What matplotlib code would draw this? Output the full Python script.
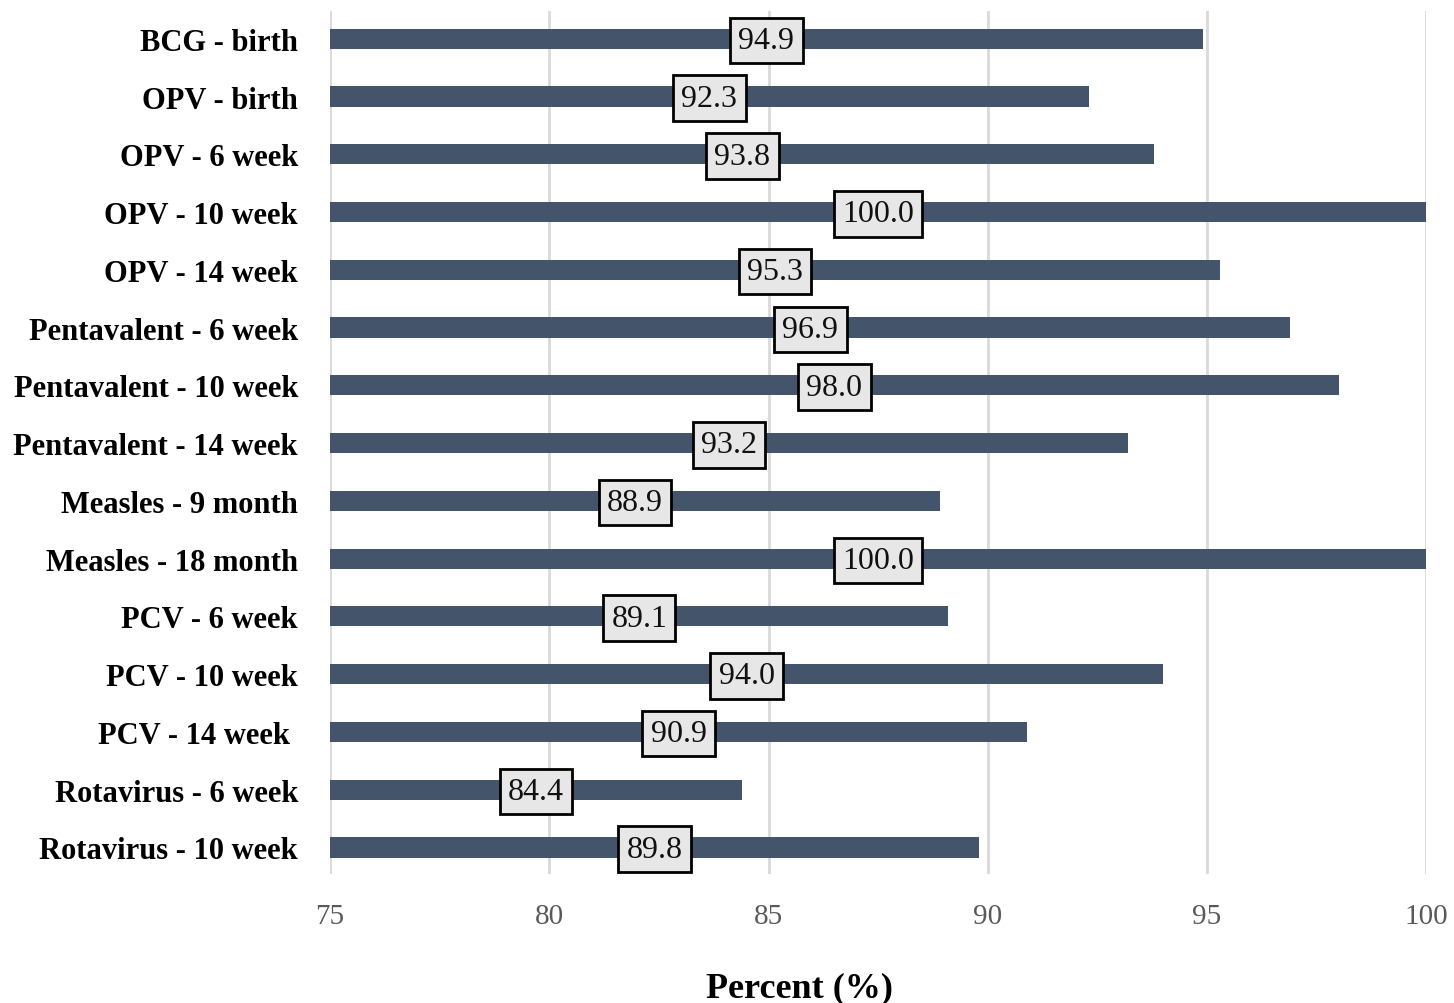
import matplotlib
matplotlib.use("Agg")
import matplotlib.pyplot as plt

# Vaccination coverage by vaccine and dose
vaccines = [
    "BCG - birth",
    "OPV - birth",
    "OPV - 6 week",
    "OPV - 10 week",
    "OPV - 14 week",
    "Pentavalent - 6 week",
    "Pentavalent - 10 week",
    "Pentavalent - 14 week",
    "Measles - 9 month",
    "Measles - 18 month",
    "PCV - 6 week",
    "PCV - 10 week",
    "PCV - 14 week ",
    "Rotavirus - 6 week",
    "Rotavirus - 10 week",
]
coverage = [94.9, 92.3, 93.8, 100.0, 95.3, 96.9, 98.0, 93.2,
            88.9, 100.0, 89.1, 94.0, 90.9, 84.4, 89.8]
x_ticks = [75, 80, 85, 90, 95, 100]

serif = ["Liberation Serif", "DejaVu Serif"]
plt.rcParams["font.family"] = serif

fig = plt.figure(figsize=(14.54, 10.04), dpi=100)
ax = fig.add_axes([0.227, 0.1285, 0.754, 0.8595])

x_min = x_ticks[0]
positions = list(range(len(vaccines)))
widths = [v - x_min for v in coverage]
ax.barh(positions, widths, left=x_min, height=0.35, color="#44546A", zorder=2)

for pos, val in zip(positions, coverage):
    ax.text((x_min + val) / 2, pos + 0.03, f"{val:.1f}", ha="center", va="center",
            fontsize=23, color="#111111", zorder=3,
            bbox=dict(boxstyle="square,pad=0.26", facecolor="#E7E7E7",
                      edgecolor="black", linewidth=2))

ax.set_xlim(x_min, x_ticks[-1])
ax.set_ylim(14.46, -0.48)
ax.set_xticks(x_ticks)
ax.set_xticklabels([str(t) for t in x_ticks], fontsize=21, color="#595959")
ax.set_yticks(positions)
ax.set_yticklabels(vaccines, fontsize=22, fontweight="bold", color="black")
ax.tick_params(axis="both", length=0)
ax.tick_params(axis="x", pad=21)
ax.tick_params(axis="y", pad=23)

ax.grid(axis="x", color="#D9D9D9", linewidth=2, zorder=0)
ax.set_axisbelow(True)
for spine in ax.spines.values():
    spine.set_visible(False)

fig.text(0.55, 0.015, "Percent (%)", ha="center", va="center",
         fontsize=26, fontweight="bold")

fig.savefig("out.png", dpi=100)
